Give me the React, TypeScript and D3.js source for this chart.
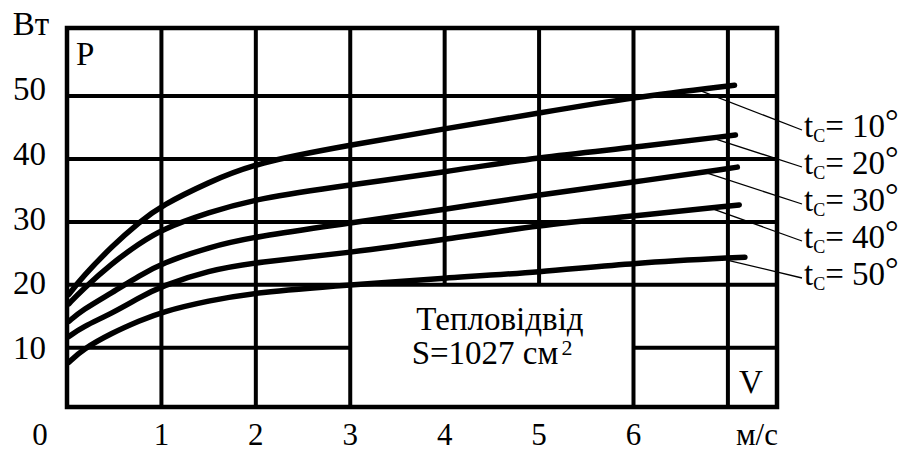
import React from "react";
import * as d3 from "d3";

// Air speed, m/s (sample points along each curve)
const speeds = [0.02, 0.16, 0.48, 0.77, 1, 1.5, 2, 3, 4, 5, 6];
// Case temperatures, °C
const temps = [10, 20, 30, 40, 50];
// Dissipated power, W, for each temperature
const p10 = [18.5, 21.2, 26.2, 30.0, 32.6, 36.3, 39.4, 42.2, 44.8, 47.3, 49.8];
const p20 = [17.0, 19.2, 23.5, 26.6, 28.8, 31.5, 33.7, 35.9, 37.9, 40.3, 41.8];
const p30 = [14.2, 16.0, 18.8, 21.5, 23.4, 26.0, 27.7, 29.8, 32.0, 34.3, 36.3];
const p40 = [11.8, 13.3, 15.5, 18.0, 19.8, 22.3, 23.6, 25.1, 27.2, 29.5, 30.9];
const p50 = [7.7, 9.7, 12.4, 14.3, 15.7, 17.5, 18.8, 20.0, 21.1, 22.0, 23.5];
// Last point of each curve
const endSpeeds = [7.07, 7.08, 7.1, 7.12, 7.18];
const endPowers = [51.7, 43.8, 38.7, 32.7, 24.4];
// Where each label's leader line touches its curve
const leaderSpeeds = [6.72, 6.88, 6.79, 6.86, 6.99];

const xTicks = [1, 2, 3, 4, 5, 6];
const yTicks = [10, 20, 30, 40, 50];
const xGrid = [1, 2, 3, 4, 5, 6, 7];
const yGrid = [10, 20, 30, 40, 50];
// Region cleared of grid for the inscription
const gapSpeeds = [3, 6];
const gapTop = 20;

const FONT = "'Liberation Serif', 'DejaVu Serif', serif";
const FS = 33;
const FS_X = 31;

export default function App() {
  const x = d3.scaleLinear().domain([0, 7.52]).range([67, 777]);
  const y = d3.scaleLinear().domain([0.6, 60.8]).range([407, 28]);
  const yLabel = d3.scaleLinear().domain([10, 50]).range([359, 100]);

  const series = [p10, p20, p30, p40, p50].map((vals, i) => {
    const pts: [number, number][] = speeds.map((s, j) => [s, vals[j]]);
    pts.push([endSpeeds[i], endPowers[i]]);
    return pts;
  });

  const line = d3
    .line<[number, number]>()
    .x((d) => x(d[0]))
    .y((d) => y(d[1]))
    .curve(d3.curveBasis);

  const [xMin, xMax] = x.domain();
  const [yMin, yMax] = y.domain();

  // grid segments
  const hSegs: [number, number, number][] = [];
  yGrid.forEach((v) => {
    if (v < gapTop) {
      hSegs.push([v, xMin, gapSpeeds[0]]);
      hSegs.push([v, gapSpeeds[1], xMax]);
    } else {
      hSegs.push([v, xMin, xMax]);
    }
  });
  const vSegs: [number, number, number][] = xGrid.map((s) =>
    s > gapSpeeds[0] && s < gapSpeeds[1] ? [s, gapTop, yMax] : [s, yMin, yMax]
  );

  const labelBase = (i: number) => 137 + i * 37;

  const leaderY = (i: number) => {
    const pts = series[i];
    const a = pts[pts.length - 2];
    const b = pts[pts.length - 1];
    const t = (leaderSpeeds[i] - a[0]) / (b[0] - a[0]);
    return a[1] + t * (b[1] - a[1]);
  };

  return (
    <div style={{ position: "absolute", left: 0, top: 0 }}>
      <svg width={912} height={452} style={{ display: "block", background: "#fff" }}>
        <rect x={0} y={0} width={912} height={452} fill="#fff" />
        {/* grid */}
        <g stroke="#000" strokeWidth={4}>
          {hSegs.map(([v, a, b], i) => (
            <line key={"h" + i} x1={x(a)} x2={x(b)} y1={y(v)} y2={y(v)} />
          ))}
          {vSegs.map(([s, a, b], i) => (
            <line key={"v" + i} x1={x(s)} x2={x(s)} y1={y(a)} y2={y(b)} />
          ))}
        </g>
        <rect
          x={x(xMin)}
          y={y(yMax)}
          width={x(xMax) - x(xMin)}
          height={y(yMin) - y(yMax)}
          fill="none"
          stroke="#000"
          strokeWidth={4.5}
        />
        {/* curves */}
        <g fill="none" stroke="#000" strokeWidth={5.5} strokeLinecap="round">
          {series.map((pts, i) => (
            <path key={temps[i]} d={line(pts) || ""} />
          ))}
        </g>
        {/* leader lines */}
        <g stroke="#000" strokeWidth={1.3}>
          {temps.map((t, i) => (
            <line
              key={t}
              x1={x(leaderSpeeds[i])}
              y1={y(leaderY(i)) + 2}
              x2={802}
              y2={labelBase(i) - 7}
            />
          ))}
        </g>
        <g fontFamily={FONT} fill="#000">
          {/* series labels */}
          {temps.map((t, i) => (
            <text key={t} x={804} y={labelBase(i)} fontSize={FS}>
              t
              <tspan fontSize={18} dy={5}>C</tspan>
              <tspan dy={-5}>= {t}</tspan>
              <tspan dy={-5} fontSize={34}>°</tspan>
            </text>
          ))}
          {/* y tick labels */}
          {yTicks.map((v) => (
            <text key={v} x={46} y={yLabel(v)} fontSize={FS} textAnchor="end">
              {v}
            </text>
          ))}
          <text x={31} y={35} fontSize={FS} textAnchor="middle">Вт</text>
          <text x={76} y={65} fontSize={FS}>P</text>
          {/* x tick labels */}
          {xTicks.map((s) => (
            <text key={s} x={x(s)} y={445} fontSize={FS_X} textAnchor="middle">
              {s}
            </text>
          ))}
          <text x={40} y={445} fontSize={FS_X} textAnchor="middle">0</text>
          <text x={757} y={445} fontSize={FS_X} textAnchor="middle">м/с</text>
          <text x={739} y={393} fontSize={FS}>V</text>
          {/* inscription */}
          <text x={500} y={330} fontSize={FS} textAnchor="middle">Тепловідвід</text>
          <text x={492} y={364} fontSize={FS} textAnchor="middle">
            S=1027 см
            <tspan dy={-9} dx={3} fontSize={22}>2</tspan>
          </text>
        </g>
      </svg>
    </div>
  );
}
